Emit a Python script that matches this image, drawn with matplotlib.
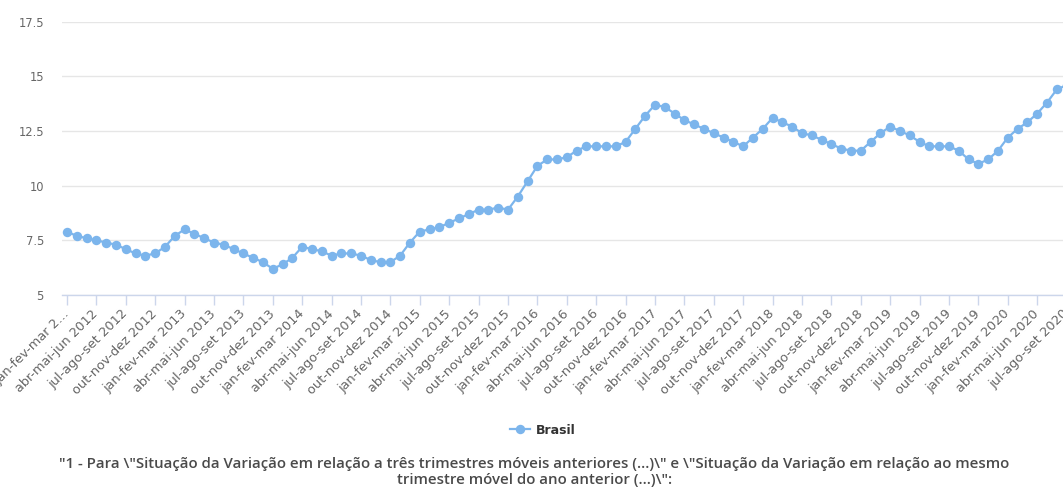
import matplotlib
matplotlib.use("Agg")
import matplotlib.pyplot as plt
from matplotlib.lines import Line2D

# Taxa de desocupação, trimestres móveis (jan-fev-mar 2012 a jul-ago-set 2020)
brasil_2012 = [7.9, 7.7, 7.6, 7.5, 7.4, 7.3, 7.1, 6.9, 6.8, 6.9, 7.2, 7.7]
brasil_2013 = [8.0, 7.8, 7.6, 7.4, 7.3, 7.1, 6.9, 6.7, 6.5, 6.2, 6.4, 6.7]
brasil_2014 = [7.2, 7.1, 7.0, 6.8, 6.9, 6.9, 6.8, 6.6, 6.5, 6.5, 6.8, 7.4]
brasil_2015 = [7.9, 8.0, 8.1, 8.3, 8.5, 8.7, 8.9, 8.9, 9.0, 8.9, 9.5, 10.2]
brasil_2016 = [10.9, 11.2, 11.2, 11.3, 11.6, 11.8, 11.8, 11.8, 11.8, 12.0, 12.6, 13.2]
brasil_2017 = [13.7, 13.6, 13.3, 13.0, 12.8, 12.6, 12.4, 12.2, 12.0, 11.8, 12.2, 12.6]
brasil_2018 = [13.1, 12.9, 12.7, 12.4, 12.3, 12.1, 11.9, 11.7, 11.6, 11.6, 12.0, 12.4]
brasil_2019 = [12.7, 12.5, 12.3, 12.0, 11.8, 11.8, 11.8, 11.6, 11.2, 11.0, 11.2, 11.6]
brasil_2020 = [12.2, 12.6, 12.9, 13.3, 13.8, 14.4, 14.6]

brasil = (brasil_2012 + brasil_2013 + brasil_2014 + brasil_2015 + brasil_2016
          + brasil_2017 + brasil_2018 + brasil_2019 + brasil_2020)

trimestres = ["jan-fev-mar", "abr-mai-jun", "jul-ago-set", "out-nov-dez"]
anos = [2012, 2013, 2014, 2015, 2016, 2017, 2018, 2019, 2020]

tick_labels = [f"{t} {a}" for a in anos for t in trimestres][:35]
tick_labels[0] = "jan-fev-mar 2…"
tick_pos = list(range(0, len(brasil), 3))

y_ticks = [5, 7.5, 10, 12.5, 15, 17.5]
y_labels = ["5", "7.5", "10", "12.5", "15", "17.5"]

legenda = "Brasil"
nota_1 = ('"1 - Para \\"Situação da Variação em relação a três trimestres móveis '
          'anteriores (…)\\" e \\"Situação da Variação em relação ao mesmo')
nota_2 = 'trimestre móvel do ano anterior (…)\\":'

W, H = 1063, 487
fig = plt.figure(figsize=(W / 100, H / 100), dpi=100)
fig.patch.set_facecolor("white")

left, right, top, bottom = 62, 1071.5, 21.7, 295
ax = fig.add_axes([left / W, (H - bottom) / H, (right - left) / W, (bottom - top) / H])
ax.set_facecolor("white")

cor = "#7cb5ec"
ax.plot(range(len(brasil)), brasil, color=cor, lw=1.6, marker="o",
        markersize=6.8, markeredgewidth=0, zorder=3, clip_on=False)

ax.set_xlim(-0.5, len(brasil) - 0.5)
ax.set_ylim(5, 17.5)

ax.set_yticks(y_ticks)
ax.set_yticklabels(y_labels)
ax.yaxis.grid(True, color="#e6e6e6", lw=1)
ax.set_axisbelow(True)
ax.tick_params(axis="y", length=0, pad=13, labelsize=8.3, labelcolor="#666666")

ax.set_xticks(tick_pos)
ax.set_xticklabels(tick_labels, rotation=45, ha="right", va="center",
                   rotation_mode="anchor")
ax.tick_params(axis="x", length=7.2, width=1, color="#ccd6eb", pad=5,
               labelsize=9.3, labelcolor="#666666")

for s in ["top", "right", "left"]:
    ax.spines[s].set_visible(False)
ax.spines["bottom"].set_color("#ccd6eb")
ax.spines["bottom"].set_linewidth(1)

handle = Line2D([0], [0], color=cor, lw=1.6, marker="o", markersize=6.8,
                markeredgewidth=0)
fig.legend([handle], [legenda], loc="center", bbox_to_anchor=(543 / W, 1 - 430 / H),
           frameon=False, handlelength=1.6, handletextpad=0.5,
           prop={"weight": "bold", "size": 9}, labelcolor="#333333")

fig.text(534.5 / W, 1 - 464 / H, nota_1, ha="center", va="center",
         fontsize=10.8, color="#4a4a4a", fontweight="semibold", family="Open Sans")
fig.text(534.5 / W, 1 - 480 / H, nota_2, ha="center", va="center",
         fontsize=10.8, color="#4a4a4a", fontweight="semibold", family="Open Sans")

fig.savefig("out.png", dpi=100, facecolor="white")
